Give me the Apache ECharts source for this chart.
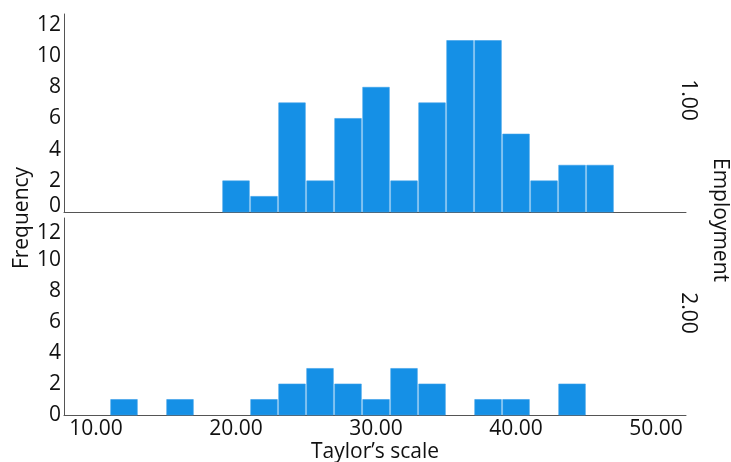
<!DOCTYPE html>
<html>
<head>
<meta charset="utf-8">
<script src="https://cdn.jsdelivr.net/npm/echarts@6/dist/echarts.min.js"></script>
<style>
  html, body { margin: 0; padding: 0; background: #fff; }
  #chart { width: 731px; height: 462px; }
</style>
</head>
<body>
<div id="chart"></div>
<script>
// Histogram of Taylor's scale, split by Employment group (1.00 / 2.00)
const binWidth = 2;
const binStarts = [11, 13, 15, 17, 19, 21, 23, 25, 27, 29, 31, 33, 35, 37, 39, 41, 43, 45];
const freqEmployment1 = [0, 0, 0, 0, 2, 1, 7, 2, 6, 8, 2, 7, 11, 11, 5, 2, 3, 3];
const freqEmployment2 = [1, 0, 1, 0, 0, 1, 2, 3, 2, 1, 3, 2, 0, 1, 1, 0, 2, 0];
const groupLabels = ['1.00', '2.00'];
const xTitle = 'Taylor\u2019s scale';
const yTitle = 'Frequency';
const panelTitle = 'Employment';

const FONT = 'Open Sans';
const TEXT = '#111';
const BAR = '#1590e6';
const AXIS = '#555';

function toRows(freqs) {
  return binStarts.map((s, i) => [s, s + binWidth, freqs[i]]);
}

function renderBin(params, api) {
  const count = api.value(2);
  if (!count) return null;
  const p0 = api.coord([api.value(0), count]);
  const p1 = api.coord([api.value(1), 0]);
  const gap = 0.7;
  return {
    type: 'rect',
    shape: { x: p0[0] + gap, y: p0[1], width: p1[0] - p0[0] - 2 * gap, height: p1[1] - p0[1] },
    style: { fill: BAR, stroke: '#3a9fea', lineWidth: 0.6 }
  };
}

const chart = echarts.init(document.getElementById('chart'), null, { renderer: 'canvas' });

const yAxisBase = (gridIndex, liftZero, dropTop) => ({
  type: 'value', gridIndex, min: 0, max: 12.7, interval: 2,
  axisLine: { show: true, lineStyle: { color: AXIS, width: 1 } },
  axisTick: { show: false },
  splitLine: { show: false },
  axisLabel: {
    fontFamily: FONT, fontSize: 21, color: TEXT, margin: 3, showMaxLabel: false,
    formatter: v => {
      if (liftZero && v === 0) return '{lift|0}';
      if (dropTop && v === 12) return '{drop|12}';
      return String(v);
    },
    rich: {
      lift: { fontFamily: FONT, fontSize: 21, color: TEXT, padding: [0, 0, 12, 0] },
      drop: { fontFamily: FONT, fontSize: 21, color: TEXT, padding: [8, 0, 0, 0] }
    }
  }
});

const xAxisBase = (gridIndex, showLabels) => ({
  type: 'value', gridIndex, min: 7.714, max: 52.14, splitNumber: 5,
  axisLine: { show: true, onZero: false, lineStyle: { color: AXIS, width: 1 } },
  axisTick: { show: false },
  splitLine: { show: false },
  axisLabel: {
    show: showLabels, fontFamily: FONT, fontSize: 21, color: TEXT, margin: 4,
    showMinLabel: false, showMaxLabel: false,
    formatter: v => (Math.abs(v % 10) < 1e-9 ? v.toFixed(2) : '')
  },
  name: showLabels ? xTitle : '',
  nameLocation: 'middle',
  nameGap: 27,
  nameTextStyle: { fontFamily: FONT, fontSize: 21, color: TEXT }
});

chart.setOption({
  animation: false,
  backgroundColor: '#fff',
  grid: [
    { left: 64, right: 45, top: 14, height: 198, outerBoundsMode: 'none', containLabel: false },
    { left: 64, right: 45, top: 218, height: 197, outerBoundsMode: 'none', containLabel: false }
  ],
  xAxis: [xAxisBase(0, false), xAxisBase(1, true)],
  yAxis: [yAxisBase(0, true, false), yAxisBase(1, false, true)],
  series: [
    { type: 'custom', xAxisIndex: 0, yAxisIndex: 0, renderItem: renderBin,
      encode: { x: [0, 1], y: 2 }, data: toRows(freqEmployment1) },
    { type: 'custom', xAxisIndex: 1, yAxisIndex: 1, renderItem: renderBin,
      encode: { x: [0, 1], y: 2 }, data: toRows(freqEmployment2) }
  ],
  graphic: [
    { type: 'text', x: 22, y: 218, rotation: Math.PI / 2,
      style: { text: yTitle, font: '21px "' + FONT + '"', fill: TEXT, align: 'center', verticalAlign: 'middle' } },
    { type: 'text', x: 720, y: 220, rotation: -Math.PI / 2,
      style: { text: panelTitle, font: '21px "' + FONT + '"', fill: TEXT, align: 'center', verticalAlign: 'middle' } },
    { type: 'text', x: 688, y: 100, rotation: -Math.PI / 2,
      style: { text: groupLabels[0], font: '21px "' + FONT + '"', fill: TEXT, align: 'center', verticalAlign: 'middle' } },
    { type: 'text', x: 688, y: 313, rotation: -Math.PI / 2,
      style: { text: groupLabels[1], font: '21px "' + FONT + '"', fill: TEXT, align: 'center', verticalAlign: 'middle' } }
  ]
});
</script>
</body>
</html>
